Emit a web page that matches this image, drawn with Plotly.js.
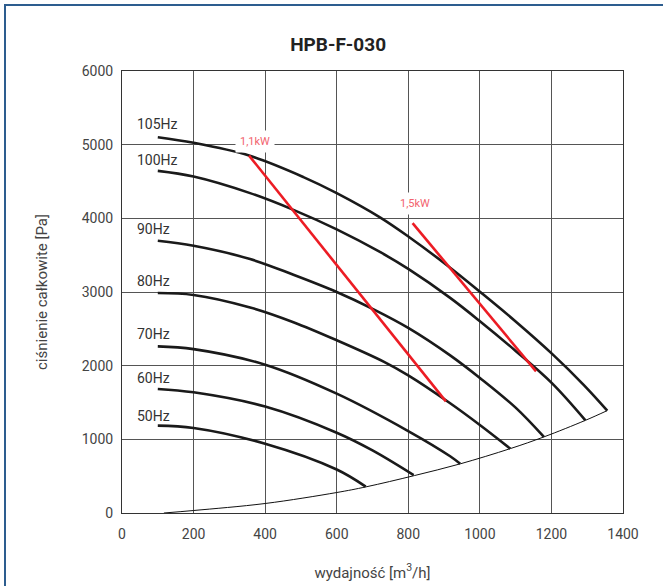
<!DOCTYPE html>
<html>
<head>
<meta charset="utf-8">
<script src="https://cdn.plot.ly/plotly-3.0.1.min.js"></script>
<style>
  html, body { margin: 0; padding: 0; background: #fff; overflow: hidden; }
  #wrap { position: relative; width: 663px; height: 586px; overflow: hidden; }
  #chart { position: absolute; left: 0; top: 0; width: 663px; height: 586px; }
  #frameL { position: absolute; left: 4px; top: 4px; width: 2px; height: 582px; background: #2d5d8f; pointer-events: none; }
  #frameT { position: absolute; left: 4px; top: 4px; width: 659px; height: 2px; background: #2d5d8f; pointer-events: none; }
</style>
</head>
<body>
<div id="wrap"><div id="chart"></div><div id="frameL"></div><div id="frameT"></div></div>
<script>
// ---- data ----
const chartTitle = 'HPB-F-030';
const xTitle = 'wydajność [m<sup>3</sup>/h]';
const yTitle = 'ciśnienie całkowite [Pa]';

const q105 = [100, 200, 355, 507, 600, 722, 801, 917, 1001, 1100, 1202, 1290, 1356];
const p105 = [5100, 5025, 4852, 4560, 4342, 4010, 3750, 3330, 3000, 2600, 2160, 1740, 1390];
const q100 = [100, 200, 358, 479, 600, 722, 801, 917, 1001, 1100, 1202, 1295];
const p100 = [4644, 4567, 4342, 4115, 3850, 3540, 3310, 2920, 2600, 2200, 1760, 1258];
const q90 = [100, 200, 358, 479, 600, 703, 801, 917, 1001, 1100, 1179];
const p90 = [3695, 3627, 3447, 3234, 3000, 2765, 2510, 2140, 1830, 1430, 1033];
const q80 = [100, 200, 358, 479, 600, 731, 801, 917, 1000, 1085];
const p80 = [2986, 2960, 2790, 2590, 2345, 2055, 1865, 1490, 1195, 874];
const q70 = [100, 200, 400, 600, 801, 917, 945];
const p70 = [2262, 2225, 2013, 1620, 1109, 770, 667];
const q60 = [100, 200, 400, 600, 700, 815];
const p60 = [1684, 1638, 1445, 1090, 850, 515];
const q50 = [100, 200, 400, 600, 681];
const p50 = [1186, 1155, 940, 590, 358];

const sysQ = [117, 200, 400, 600, 682, 817, 945, 1085, 1179, 1295, 1356];
const sysP = [0, 34, 129, 278, 355, 508, 667, 874, 1033, 1258, 1390];

const kw11Q = [355, 905];
const kw11P = [4852, 1516];
const kw15Q = [812, 1157];
const kw15P = [3935, 1923];

const freqLabels = ['105Hz', '100Hz', '90Hz', '80Hz', '70Hz', '60Hz', '50Hz'];
const freqLabelQ = [36, 36, 36, 36, 36, 36, 36];
const freqLabelP = [5281, 4786, 3851, 3146, 2434, 1837, 1315];

const powerLabels = ['1,1kW', '1,5kW'];
const powerLabelQ = [372, 820];
const powerLabelP = [5037, 4197];

const xTicks = [0, 200, 400, 600, 800, 1000, 1200, 1400];
const yTicks = [0, 1000, 2000, 3000, 4000, 5000, 6000];

// ---- chart ----
const FONT = 'Roboto, "DejaVu Sans", sans-serif';
const curves = [[q105, p105], [q100, p100], [q90, p90], [q80, p80], [q70, p70], [q60, p60], [q50, p50]];

const traces = [];
traces.push({ x: sysQ, y: sysP, mode: 'lines', line: { color: '#111', width: 1, shape: 'spline', smoothing: 1 }, hoverinfo: 'skip' });
curves.forEach(c => traces.push({
  x: c[0], y: c[1], mode: 'lines',
  line: { color: '#1a1a1a', width: 2.6, shape: 'spline', smoothing: 1 }, hoverinfo: 'skip'
}));
[[kw11Q, kw11P], [kw15Q, kw15P]].forEach(c => traces.push({
  x: c[0], y: c[1], mode: 'lines', line: { color: '#ec1c24', width: 2.6 }, hoverinfo: 'skip'
}));

const annotations = [];
freqLabels.forEach((t, i) => annotations.push({
  x: freqLabelQ[i], y: freqLabelP[i], text: t, showarrow: false,
  xanchor: 'left', yanchor: 'middle', font: { family: FONT, size: 14, color: '#333' }
}));
powerLabels.forEach((t, i) => annotations.push({
  x: powerLabelQ[i], y: powerLabelP[i], text: t, showarrow: false,
  xanchor: 'center', yanchor: 'middle', bgcolor: '#fff', borderpad: 4,
  font: { family: FONT, size: 11, color: '#f2636e' }
}));

const layout = {
  width: 663, height: 586,
  margin: { l: 122, r: 40, t: 71, b: 72.5 },
  paper_bgcolor: '#fff', plot_bgcolor: '#fff',
  showlegend: false,
  title: { text: chartTitle, x: 0.51, xref: 'container', y: 0.925, yref: 'container',
           xanchor: 'center', yanchor: 'middle',
           font: { family: FONT, size: 19, color: '#222', weight: 'bold' } },
  xaxis: {
    range: [0, 1400], tickvals: xTicks, ticktext: xTicks.map(String),
    showgrid: true, gridcolor: '#555', gridwidth: 1, zeroline: false,
    showline: true, mirror: true, linecolor: '#333', linewidth: 1,
    ticks: '', ticklabelstandoff: 8, tickfont: { family: FONT, size: 14, color: '#444' },
    title: { text: xTitle, font: { family: FONT, size: 15, color: '#444' }, standoff: 26 },
    fixedrange: true
  },
  yaxis: {
    range: [0, 6000], tickvals: yTicks, ticktext: yTicks.map(String),
    showgrid: true, gridcolor: '#555', gridwidth: 1, zeroline: false,
    showline: true, mirror: true, linecolor: '#333', linewidth: 1,
    ticks: '', ticklabelstandoff: 5, tickfont: { family: FONT, size: 14, color: '#444' },
    title: { text: yTitle, font: { family: FONT, size: 15, color: '#444' }, standoff: 30 },
    fixedrange: true
  },
  annotations: annotations
};

Plotly.newPlot('chart', traces, layout, { displayModeBar: false, staticPlot: true });
</script>
</body>
</html>
